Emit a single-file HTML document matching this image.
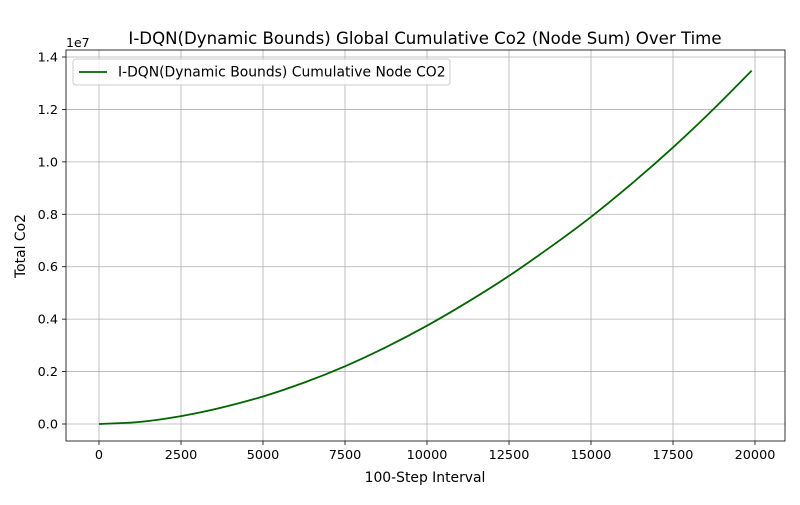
<!DOCTYPE html>
<html><head><meta charset="utf-8"><style>
body{margin:0;background:#fff;font-family:"Liberation Sans","DejaVu Sans",sans-serif}
svg text{font-family:"DejaVu Sans","Liberation Sans",sans-serif}
</style></head><body>
<svg id="c" width="800" height="500" xmlns="http://www.w3.org/2000/svg">
<rect width="800" height="500" fill="#fff"/>
<text x="425" y="44" text-anchor="middle" font-size="16.6">I-DQN(Dynamic Bounds) Global Cumulative Co2 (Node Sum) Over Time</text>
<g id="grid"></g>
<g id="ticks"></g>
<path id="line" fill="none" stroke="#006400" stroke-width="1.8"/>
<rect x="66" y="50" width="719" height="391" fill="none" stroke="#000" stroke-width="0.8"/>
<text x="66" y="47" font-size="12.5">1e7</text>
<text x="425" y="482" text-anchor="middle" font-size="13.9">100-Step Interval</text>
<text transform="translate(25,246) rotate(-90)" text-anchor="middle" font-size="13.9">Total Co2</text>
<g>
<rect x="73" y="59" width="377" height="26" rx="3" fill="#fff" fill-opacity="0.8" stroke="#ccc"/>
<line x1="79" y1="72" x2="107" y2="72" stroke="#006400" stroke-width="1.8"/>
<text x="118" y="76.5" font-size="13.9">I-DQN(Dynamic Bounds) Cumulative Node CO2</text>
</g>
</svg>
<script>
const xs=[0,1250,2500,3750,5000,6250,7500,8750,10000,11250,12500,13750,15000,16250,17500,18750,19900];
const ys=[0,0.08,0.30,0.63,1.05,1.58,2.2,2.93,3.75,4.66,5.65,6.74,7.9,9.18,10.55,12.03,13.48];
const xTicks=[0,2500,5000,7500,10000,12500,15000,17500,20000];
const yTicks=[0,0.2,0.4,0.6,0.8,1.0,1.2,1.4];
const X=v=>99+v*(656/20000);
const Y=v=>424-v*(367/14);
const ns="http://www.w3.org/2000/svg";
const g=document.getElementById('grid'),t=document.getElementById('ticks');
function mk(tag,a,p){const e=document.createElementNS(ns,tag);for(const k in a)e.setAttribute(k,a[k]);p.appendChild(e);return e;}
xTicks.forEach(v=>{
 const l=mk('line',{x1:X(v),x2:X(v),y1:50,y2:441,stroke:'#b0b0b0','stroke-width':0.8},g);
 
 
 mk('line',{x1:X(v),x2:X(v),y1:441,y2:445,stroke:'#000','stroke-width':0.8},t);
 const tx=mk('text',{x:X(v),y:459,'text-anchor':'middle','font-size':12.8},t);tx.textContent=v;
 
 
});
yTicks.forEach(v=>{
 const l=mk('line',{x1:66,x2:785,y1:Y(v*10),y2:Y(v*10),stroke:'#b0b0b0','stroke-width':0.8},g);
 
 
 mk('line',{x1:62,x2:66,y1:Y(v*10),y2:Y(v*10),stroke:'#000','stroke-width':0.8},t);
 const tx=mk('text',{x:58,y:Y(v*10)+4.5,'text-anchor':'end','font-size':12.8},t);tx.textContent=v.toFixed(1);
 
 
});
const P=xs.map((x,i)=>[X(x),Y(ys[i])]);
let d='M'+P[0][0].toFixed(1)+','+P[0][1].toFixed(1);
for(let i=0;i<P.length-1;i++){
 const p0=P[Math.max(i-1,0)],p1=P[i],p2=P[i+1],p3=P[Math.min(i+2,P.length-1)];
 const c1=[p1[0]+(p2[0]-p0[0])/6,p1[1]+(p2[1]-p0[1])/6];
 const c2=[p2[0]-(p3[0]-p1[0])/6,p2[1]-(p3[1]-p1[1])/6];
 d+='C'+c1.map(n=>n.toFixed(1)).join(',')+' '+c2.map(n=>n.toFixed(1)).join(',')+' '+p2.map(n=>n.toFixed(1)).join(',');
}
document.getElementById('line').setAttribute('d',d);
</script>
</body></html>
